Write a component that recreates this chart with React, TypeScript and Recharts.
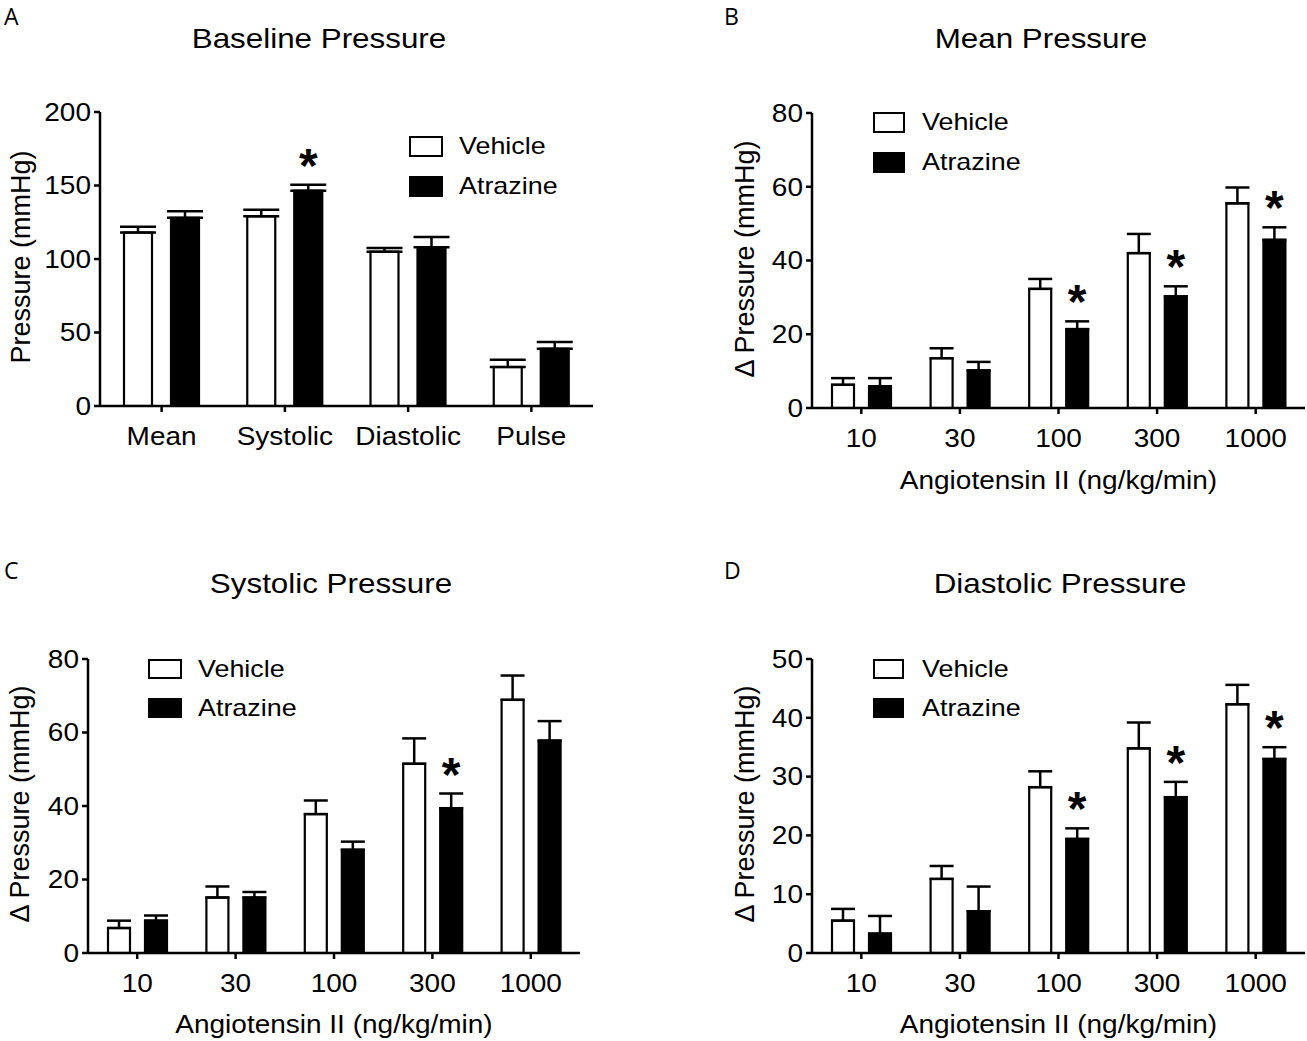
import React from 'react';
import { BarChart, Bar, XAxis, YAxis, ErrorBar, Legend } from 'recharts';

const FONT = "'Liberation Sans', Arial, Helvetica, sans-serif";
const LETTER_FONT = "'Open Sans', 'Noto Sans', sans-serif";
const SX = 1.12; // horizontal stretch of the reference lettering

// ---------- Data ----------
const baselineCategories = ['Mean', 'Systolic', 'Diastolic', 'Pulse'];
const baselineVehicle = [118, 129, 105, 26.5];
const baselineVehicleSem = [4, 4.5, 2.5, 5];
const baselineAtrazine = [128, 146.5, 108, 39];
const baselineAtrazineSem = [4.5, 4, 7, 4.5];
const baselineStar = [false, true, false, false];
const baselineTicks = [0, 50, 100, 150, 200];

const doseCategories = ['10', '30', '100', '300', '1000'];

const meanVehicle = [6.3, 13.5, 32.3, 42, 55.5];
const meanVehicleSem = [1.8, 2.7, 2.7, 5.2, 4.3];
const meanAtrazine = [5.9, 10.2, 21.4, 30.3, 45.6];
const meanAtrazineSem = [2.2, 2.3, 2.1, 2.7, 3.4];
const meanStar = [false, false, true, true, true];
const meanTicks = [0, 20, 40, 60, 80];

const systolicVehicle = [6.8, 15.1, 37.8, 51.5, 68.9];
const systolicVehicleSem = [2.0, 3.0, 3.7, 6.9, 6.6];
const systolicAtrazine = [8.8, 15.1, 28.1, 39.4, 57.8];
const systolicAtrazineSem = [1.4, 1.5, 2.2, 4.0, 5.3];
const systolicStar = [false, false, false, true, false];
const systolicTicks = [0, 20, 40, 60, 80];

const diastolicVehicle = [5.5, 12.6, 28.2, 34.8, 42.3];
const diastolicVehicleSem = [2.0, 2.2, 2.7, 4.4, 3.3];
const diastolicAtrazine = [3.3, 7.1, 19.4, 26.5, 33.0];
const diastolicAtrazineSem = [3.0, 4.2, 1.8, 2.6, 2.0];
const diastolicStar = [false, false, true, true, true];
const diastolicTicks = [0, 10, 20, 30, 40, 50];

function buildRows(
  cats: string[],
  veh: number[],
  vehSem: number[],
  atr: number[],
  atrSem: number[],
  star: boolean[]
) {
  return cats.map((c, i) => ({
    cat: c,
    veh: veh[i],
    vehErr: [0, vehSem[i]],
    atr: atr[i],
    atrSemVal: atrSem[i],
    atrErr: [0, atrSem[i]],
    star: star[i],
  }));
}

const baselineRows = buildRows(baselineCategories, baselineVehicle, baselineVehicleSem, baselineAtrazine, baselineAtrazineSem, baselineStar);
const meanRows = buildRows(doseCategories, meanVehicle, meanVehicleSem, meanAtrazine, meanAtrazineSem, meanStar);
const systolicRows = buildRows(doseCategories, systolicVehicle, systolicVehicleSem, systolicAtrazine, systolicAtrazineSem, systolicStar);
const diastolicRows = buildRows(doseCategories, diastolicVehicle, diastolicVehicleSem, diastolicAtrazine, diastolicAtrazineSem, diastolicStar);

// ---------- Components ----------
const BAR_STROKE = 2.2;
const AXIS_STROKE = 2.5;
const TICK_FS = 25;

const stretch = (x: number, y: number) => `translate(${x} ${y}) scale(${SX} 1) translate(${-x} ${-y})`;

const AtrazineShape = (props: any) => {
  const { x, y, width, height, payload } = props;
  const perUnit = payload && payload.atr ? height / payload.atr : 0;
  const capY = y - (payload ? payload.atrSemVal : 0) * perUnit;
  return (
    <g>
      <rect x={x} y={y} width={width} height={height} fill="#000" stroke="#000" strokeWidth={BAR_STROKE} />
      {payload && payload.star ? (
        <text
          x={x + width / 2}
          y={capY - 3}
          textAnchor="middle"
          fontSize={48}
          fontWeight="bold"
          fontFamily={FONT}
          fill="#000"
        >
          *
        </text>
      ) : null}
    </g>
  );
};

const VehicleShape = (props: any) => {
  const { x, y, width, height } = props;
  return <rect x={x} y={y} width={width} height={height} fill="#fff" stroke="#000" strokeWidth={BAR_STROKE} />;
};

const XTick = (props: any) => {
  const { x, y, payload } = props;
  return (
    <text
      x={x}
      y={y}
      dy="0.71em"
      textAnchor="middle"
      fontSize={TICK_FS}
      fontFamily={FONT}
      fill="#000"
      transform={stretch(x, y)}
    >
      {payload.value}
    </text>
  );
};

const YTick = (props: any) => {
  const { x, y, payload } = props;
  return (
    <text
      x={x}
      y={y}
      dy="0.355em"
      textAnchor="end"
      fontSize={TICK_FS}
      fontFamily={FONT}
      fill="#000"
      transform={stretch(x, y)}
    >
      {payload.value}
    </text>
  );
};

function makeLegend(boxW: number, boxH: number, rowH: number, gap: number) {
  return (props: any) => {
    const payload = [...(props.payload || [])].sort((a: any, b: any) =>
      a.value === 'Vehicle' ? -1 : b.value === 'Vehicle' ? 1 : 0
    );
    return (
      <div style={{ fontFamily: FONT, fontSize: 24, color: '#000' }}>
        {payload.map((p: any, i: number) => (
          <div key={i} style={{ display: 'flex', alignItems: 'center', height: rowH, whiteSpace: 'nowrap' }}>
            <span
              style={{
                display: 'inline-block',
                boxSizing: 'border-box',
                width: boxW,
                height: boxH,
                border: '2.5px solid #000',
                background: p.value === 'Vehicle' ? '#fff' : '#000',
              }}
            />
            <span
              style={{
                marginLeft: gap,
                lineHeight: 1,
                display: 'inline-block',
                transform: `scaleX(${SX})`,
                transformOrigin: 'left center',
              }}
            >
              {p.value}
            </span>
          </div>
        ))}
      </div>
    );
  };
}

type PanelProps = {
  left: number;
  top: number;
  width: number;
  height: number;
  margin: { top: number; right: number; bottom: number; left: number };
  data: any[];
  yMax: number;
  yTicks: number[];
  yLabel: string;
  yLabelX: number;
  yLabelY: number;
  xLabel?: string;
  xLabelX?: number;
  xLabelY?: number;
  barSize: number;
  barGap: number;
  capWidth: number;
  legendLeft: number;
  legendTop: number;
  legendBoxW: number;
  legendBoxH: number;
  legendRowH: number;
  legendGap: number;
};

function Panel(p: PanelProps) {
  return (
    <div style={{ position: 'absolute', left: p.left, top: p.top, width: p.width, height: p.height }}>
      <BarChart width={p.width} height={p.height} data={p.data} margin={p.margin} barSize={p.barSize} barGap={p.barGap}>
        <XAxis
          dataKey="cat"
          interval={0}
          height={40}
          axisLine={{ stroke: '#000', strokeWidth: AXIS_STROKE }}
          tickLine={{ stroke: '#000', strokeWidth: AXIS_STROKE }}
          tickSize={6}
          tickMargin={15}
          tick={<XTick />}
          label={
            p.xLabel
              ? () => (
                  <text
                    x={p.xLabelX}
                    y={p.xLabelY}
                    textAnchor="middle"
                    fontSize={TICK_FS}
                    fontFamily={FONT}
                    fill="#000"
                    transform={stretch(p.xLabelX as number, p.xLabelY as number)}
                  >
                    {p.xLabel}
                  </text>
                )
              : undefined
          }
        />
        <YAxis
          domain={[0, p.yMax]}
          ticks={p.yTicks}
          interval={0}
          width={60}
          allowDataOverflow
          axisLine={{ stroke: '#000', strokeWidth: AXIS_STROKE }}
          tickLine={{ stroke: '#000', strokeWidth: AXIS_STROKE }}
          tickSize={6}
          tickMargin={3}
          tick={<YTick />}
          label={() => (
            <text
              x={p.yLabelX}
              y={p.yLabelY}
              transform={`rotate(-90 ${p.yLabelX} ${p.yLabelY})`}
              textAnchor="middle"
              dominantBaseline="central"
              fontSize={27}
              fontFamily={FONT}
              fill="#000"
            >
              {p.yLabel}
            </text>
          )}
        />
        <Bar dataKey="veh" name="Vehicle" fill="#fff" stroke="#000" strokeWidth={BAR_STROKE} shape={<VehicleShape />} isAnimationActive={false}>
          <ErrorBar dataKey="vehErr" direction="y" width={p.capWidth} stroke="#000" strokeWidth={AXIS_STROKE} />
        </Bar>
        <Bar dataKey="atr" name="Atrazine" fill="#000" stroke="#000" strokeWidth={BAR_STROKE} shape={<AtrazineShape />} isAnimationActive={false}>
          <ErrorBar dataKey="atrErr" direction="y" width={p.capWidth} stroke="#000" strokeWidth={AXIS_STROKE} />
        </Bar>
        <Legend
          layout="horizontal"
          verticalAlign="middle"
          align="center"
          wrapperStyle={{ left: p.legendLeft, top: p.legendTop, width: 200, height: p.legendRowH * 2 }}
          content={makeLegend(p.legendBoxW, p.legendBoxH, p.legendRowH, p.legendGap)}
        />
      </BarChart>
    </div>
  );
}

function Title({ text, cx, cy }: { text: string; cx: number; cy: number }) {
  const fs = 28;
  return (
    <div
      style={{
        position: 'absolute',
        left: cx - 250,
        width: 500,
        top: cy - fs * 0.49,
        textAlign: 'center',
        fontFamily: FONT,
        fontSize: fs,
        lineHeight: 1,
        color: '#000',
        whiteSpace: 'nowrap',
        transform: `scaleX(${SX})`,
        transformOrigin: 'center center',
      }}
    >
      {text}
    </div>
  );
}

function Letter({ text, x, top }: { text: string; x: number; top: number }) {
  return (
    <div
      style={{
        position: 'absolute',
        left: x,
        top,
        fontFamily: LETTER_FONT,
        fontSize: 23,
        lineHeight: 1,
        color: '#000',
      }}
    >
      {text}
    </div>
  );
}

export default function App() {
  return (
    <div style={{ position: 'absolute', left: 0, top: 0, width: 1307, height: 1041, overflow: 'hidden', background: '#fff' }}>
      <Letter text="A" x={4} top={5} />
      <Letter text="B" x={724} top={5} />
      <Letter text="C" x={4} top={559} />
      <Letter text="D" x={724} top={559} />

      <Title text="Baseline Pressure" cx={319} cy={39} />
      <Title text="Mean Pressure" cx={1041} cy={39} />
      <Title text="Systolic Pressure" cx={331} cy={584} />
      <Title text="Diastolic Pressure" cx={1060} cy={584} />

      <Panel
        left={0}
        top={0}
        width={620}
        height={520}
        margin={{ top: 112, right: 27, bottom: 74, left: 40 }}
        data={baselineRows}
        yMax={200}
        yTicks={baselineTicks}
        yLabel="Pressure (mmHg)"
        yLabelX={21}
        yLabelY={257}
        barSize={28}
        barGap={19}
        capWidth={18}
        legendLeft={409}
        legendTop={126}
        legendBoxW={34}
        legendBoxH={21}
        legendRowH={40}
        legendGap={16}
      />
      <Panel
        left={700}
        top={0}
        width={607}
        height={520}
        margin={{ top: 113, right: 2, bottom: 72, left: 52 }}
        data={meanRows}
        yMax={80}
        yTicks={meanTicks}
        yLabel="Δ Pressure (mmHg)"
        yLabelX={45}
        yLabelY={259}
        xLabel="Angiotensin II (ng/kg/min)"
        xLabelX={358.5}
        xLabelY={489}
        barSize={22}
        barGap={15}
        capWidth={12}
        legendLeft={173}
        legendTop={102}
        legendBoxW={32}
        legendBoxH={21}
        legendRowH={40}
        legendGap={17}
      />
      <Panel
        left={0}
        top={540}
        width={620}
        height={501}
        margin={{ top: 119, right: 40, bottom: 48, left: 28 }}
        data={systolicRows}
        yMax={80}
        yTicks={systolicTicks}
        yLabel="Δ Pressure (mmHg)"
        yLabelX={20}
        yLabelY={264}
        xLabel="Angiotensin II (ng/kg/min)"
        xLabelX={334}
        xLabelY={493}
        barSize={22}
        barGap={15}
        capWidth={12}
        legendLeft={148}
        legendTop={110}
        legendBoxW={34}
        legendBoxH={20}
        legendRowH={38.5}
        legendGap={16}
      />
      <Panel
        left={700}
        top={540}
        width={607}
        height={501}
        margin={{ top: 119, right: 2, bottom: 48, left: 52 }}
        data={diastolicRows}
        yMax={50}
        yTicks={diastolicTicks}
        yLabel="Δ Pressure (mmHg)"
        yLabelX={45}
        yLabelY={264}
        xLabel="Angiotensin II (ng/kg/min)"
        xLabelX={358.5}
        xLabelY={493}
        barSize={22}
        barGap={15}
        capWidth={12}
        legendLeft={173}
        legendTop={110}
        legendBoxW={31}
        legendBoxH={20}
        legendRowH={38.5}
        legendGap={18}
      />
    </div>
  );
}
